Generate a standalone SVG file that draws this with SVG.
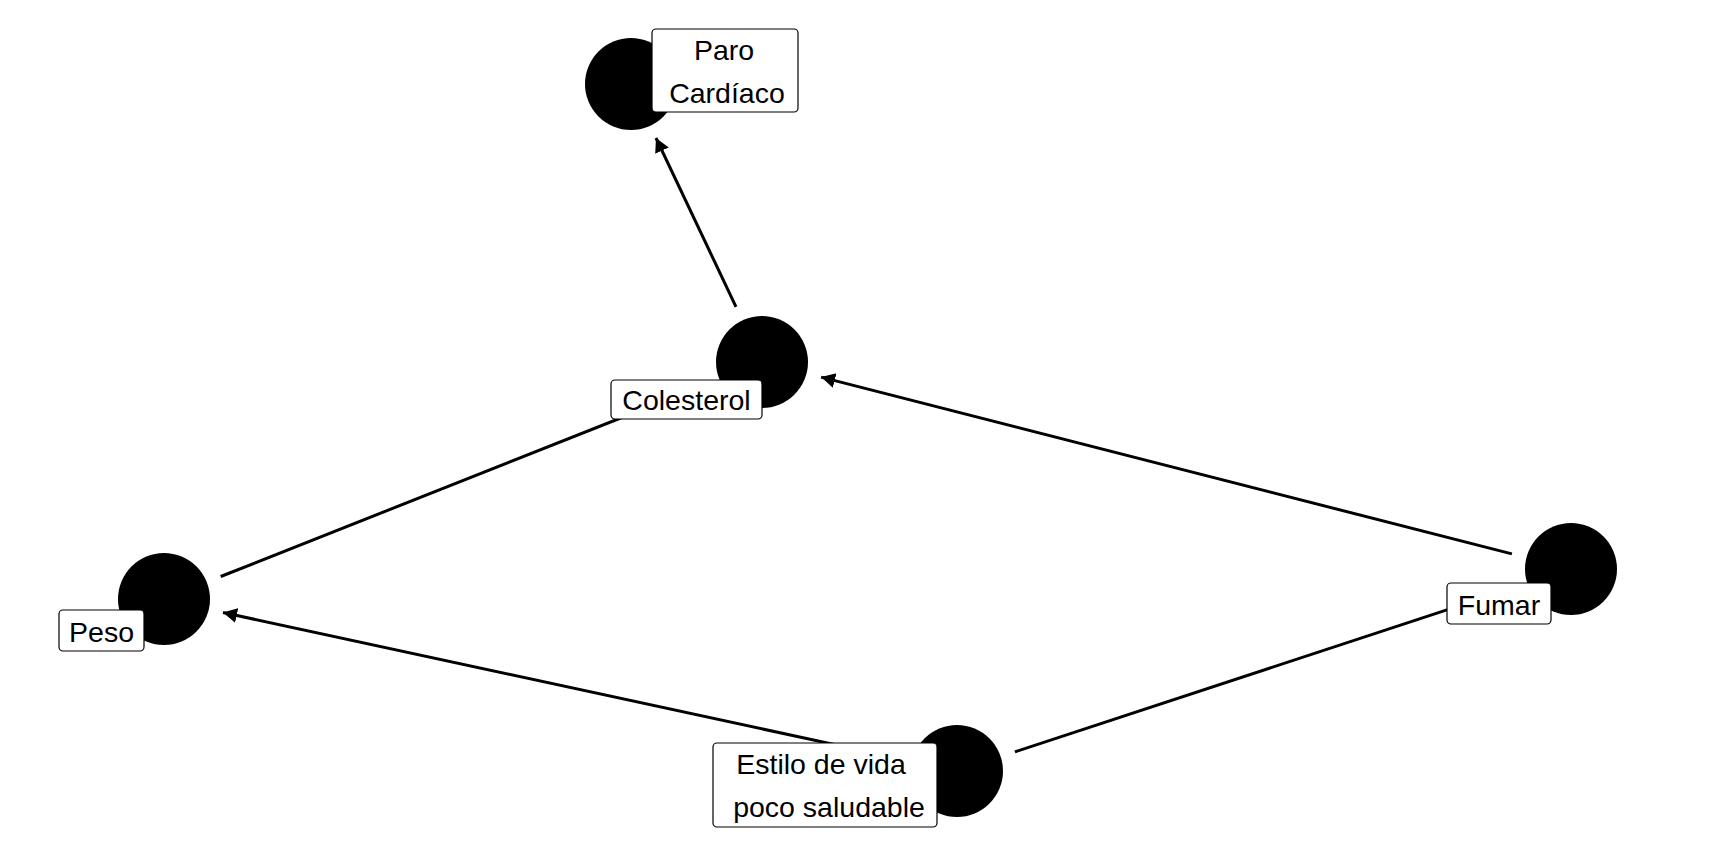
<svg xmlns="http://www.w3.org/2000/svg" width="1728" height="864" viewBox="0 0 1728 864">
<style>
.edge{stroke:#000;stroke-width:3;fill:none}
.node{fill:#000}
.box{fill:#fff;stroke:#000;stroke-width:1.2}
.lbl{font-family:"Liberation Sans",Arial,sans-serif;font-size:28.5px;fill:#000;text-anchor:middle}
</style>
<defs>
<marker id="arr" markerUnits="userSpaceOnUse" markerWidth="16" markerHeight="16" refX="14" refY="7.5" orient="auto">
<path d="M0,0 L14,7.5 L0,15 Z" fill="#000"/>
</marker>
</defs>
<rect width="1728" height="864" fill="#fff"/>
<g id="connectors">
<line class="edge" x1="736" y1="306.8" x2="656" y2="138" marker-end="url(#arr)"/>
<line class="edge" x1="1511.9" y1="553.9" x2="821.1" y2="377.1" marker-end="url(#arr)"/>
<line class="edge" x1="220.7" y1="576.5" x2="705.3" y2="384.5" marker-end="url(#arr)"/>
<line class="edge" x1="897.4" y1="758.1" x2="223" y2="612.5" marker-end="url(#arr)"/>
<line class="edge" x1="1014.9" y1="751.9" x2="1513.1" y2="588.1" marker-end="url(#arr)"/>
</g>
<g id="node-paro">
<circle class="node" cx="631" cy="84" r="46"/>
<rect class="box" x="652" y="29" width="146" height="83" rx="4"/>
<text class="lbl" x="724" y="60">Paro</text>
<text class="lbl" x="727" y="103">Cardíaco</text>
</g>
<g id="node-colesterol">
<circle class="node" cx="762" cy="362" r="46"/>
<rect class="box" x="611" y="380" width="151" height="39" rx="4"/>
<text class="lbl" x="686.5" y="410">Colesterol</text>
</g>
<g id="node-peso">
<circle class="node" cx="164" cy="599" r="46"/>
<rect class="box" x="59" y="610" width="85" height="41" rx="4"/>
<text class="lbl" x="101.5" y="642">Peso</text>
</g>
<g id="node-estilo">
<circle class="node" cx="957" cy="771" r="46"/>
<rect class="box" x="713" y="743" width="224" height="84" rx="4"/>
<text class="lbl" x="821" y="774">Estilo de vida</text>
<text class="lbl" x="829" y="817">poco saludable</text>
</g>
<g id="node-fumar">
<circle class="node" cx="1571" cy="569" r="46"/>
<rect class="box" x="1447" y="583" width="104" height="41" rx="4"/>
<text class="lbl" x="1499" y="615">Fumar</text>
</g>
</svg>
